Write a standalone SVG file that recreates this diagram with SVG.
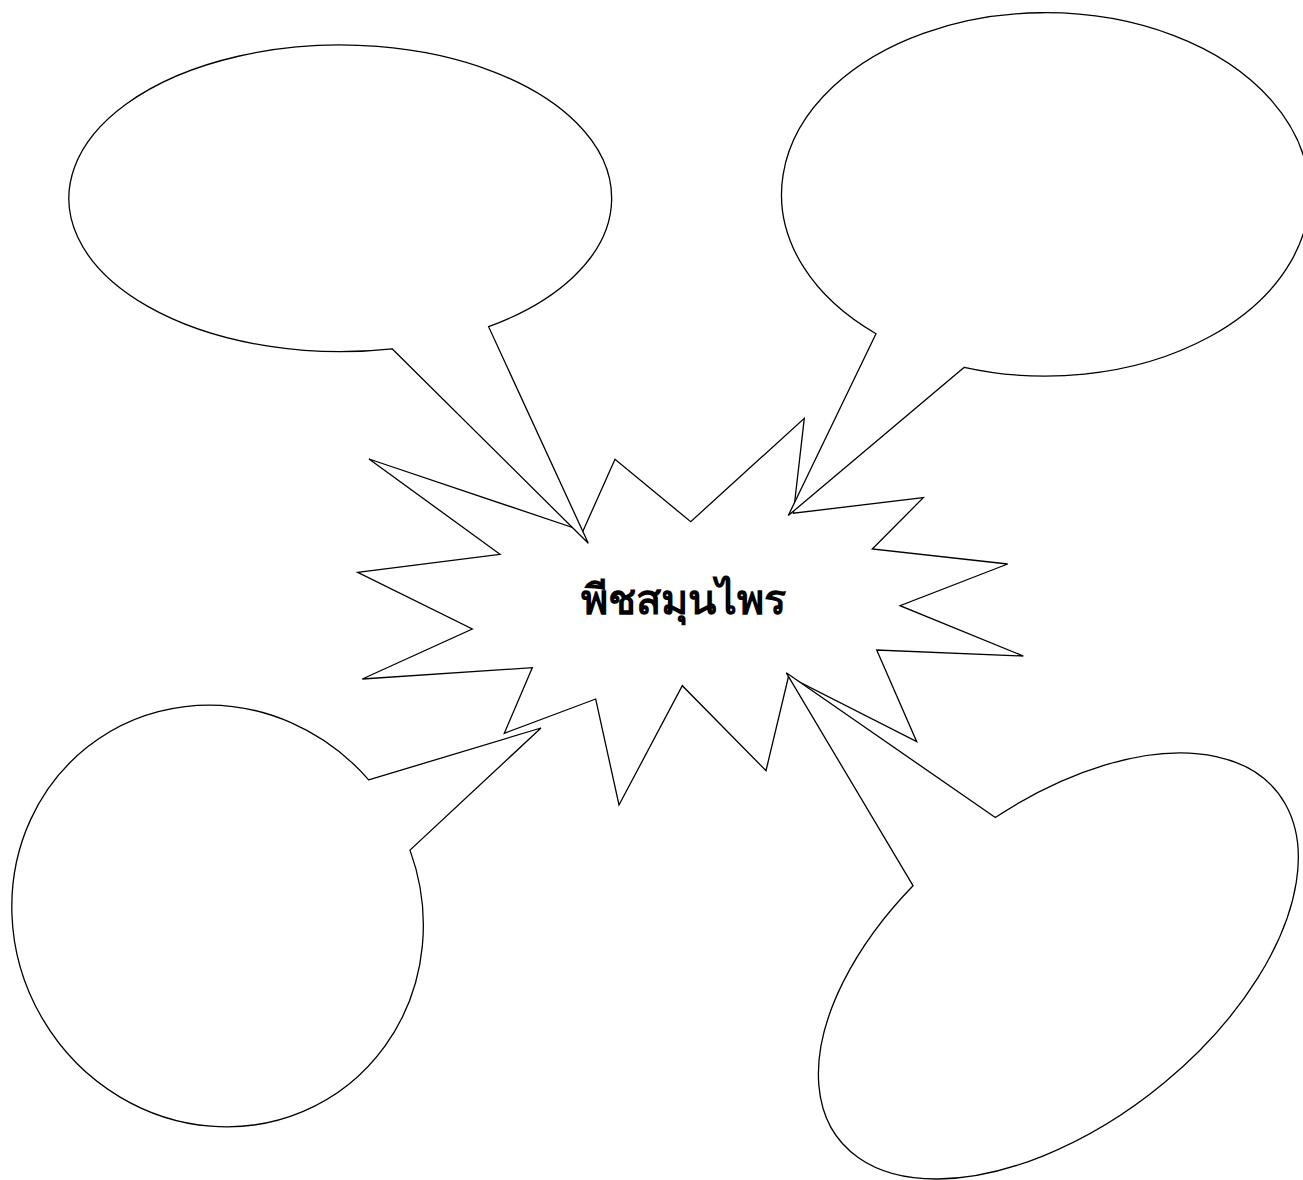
<svg xmlns="http://www.w3.org/2000/svg" width="1303" height="1180" viewBox="0 0 1303 1180">
  <style>
    .shape { fill: #ffffff; stroke: #000000; stroke-width: 1.3; stroke-linejoin: miter; }
    .label { font-family: "Noto Sans", "DejaVu Sans", sans-serif; font-size: 41.5px; font-weight: bold; fill: #000000; }
  </style>
  <rect x="0" y="0" width="1303" height="1180" fill="#ffffff"/>
  <g id="center-burst">
    <polygon class="shape" points="369,459 583,531 615,459.3 690.7,521.7 804.3,418.3 793.4,513.2 923.3,497.7 872.3,549 1007.7,564 900,605.7 1023.3,656 876.7,650 916.7,741.7 788.5,676.5 766,770.7 682.3,685.7 619,805 595.7,699 504.3,733.3 532.3,667.7 362.3,679 472.3,629 357.7,572.3 500,554.3"/>
    <text class="label" x="683" y="614" text-anchor="middle">พีชสมุนไพร</text>
  </g>
  <g id="connectors"></g>
  <g id="callout-top-left">
    <path class="shape" d="M 392.1,348.8 L 588.3,543.3 L 488.6,326.7 A 271.4 153.3 0 1 0 392.1 348.8 Z"/>
  </g>
  <g id="callout-top-right">
    <path class="shape" d="M 876,333.7 L 788.3,515.5 L 964.3,367.3 A 264 181.7 0 1 0 876 333.7 Z"/>
  </g>
  <g id="callout-bottom-left">
    <path class="shape" d="M 368.7,779.9 L 541,728 L 410,850.1 A 203 213.5 -30.6 1 1 368.7 779.9 Z"/>
  </g>
  <g id="callout-bottom-right">
    <path class="shape" d="M 913,885.7 L 786.3,672.8 L 995.3,817.5 A 279.6 157.4 -38.4 1 1 913 885.7 Z"/>
  </g>
</svg>
